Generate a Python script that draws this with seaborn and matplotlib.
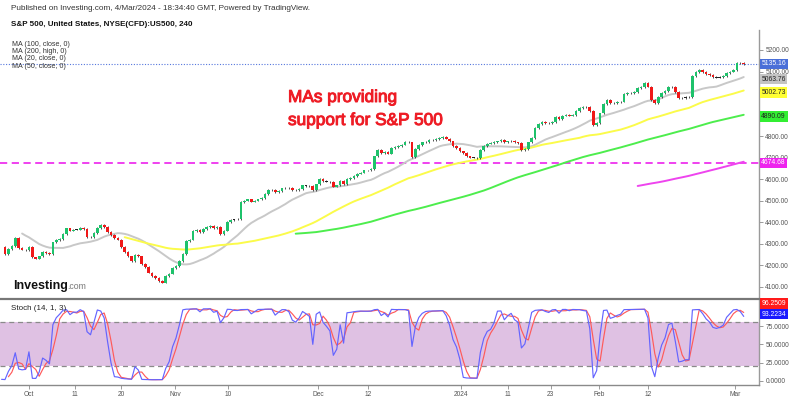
import numpy as np
import pandas as pd
import matplotlib
matplotlib.use("Agg")
import matplotlib.pyplot as plt
import matplotlib.patheffects as pe
import seaborn as sns

# ---------------- data ----------------
header_line1 = "Published on Investing.com, 4/Mar/2024 - 18:34:40 GMT, Powered by TradingView."
header_line2 = "S&P 500, United States, NYSE(CFD):US500, 240"
ma_legend = ["MA (100, close, 0)", "MA (200, high, 0)", "MA (20, close, 0)", "MA (50, close, 0)"]
note_lines = ["MAs providing", "support for S&P 500"]
stoch_title = "Stoch (14, 1, 3)"

# 4h closes of the 14 bars before the visible window (needed by the indicators)
pre_closes = [4455, 4450, 4445, 4444, 4440, 4402, 4370, 4330, 4325, 4320, 4330, 4337, 4300, 4285]
# 4h closes of the visible bars (late Sep 2023 -> 4 Mar 2024)
closes = [
    4252, 4275, 4290, 4325, 4280, 4272, 4268, 4285, 4235, 4230,
    4240, 4262, 4255, 4250, 4305, 4315, 4320, 4345, 4370, 4360,
    4365, 4365, 4372, 4368, 4330, 4328, 4350, 4372, 4385, 4378,
    4355, 4340, 4325, 4318, 4285, 4262, 4240, 4218, 4248, 4240,
    4205, 4190, 4165, 4150, 4140, 4125, 4118, 4150, 4160, 4185,
    4195, 4220, 4250, 4310, 4318, 4358, 4362, 4352, 4368, 4378,
    4383, 4372, 4376, 4345, 4360, 4400, 4410, 4412, 4415, 4492,
    4500, 4505, 4495, 4500, 4505, 4510, 4530, 4548, 4550, 4538,
    4545, 4556, 4557, 4558, 4550, 4548, 4552, 4570, 4568, 4566,
    4550, 4575, 4600, 4590, 4588, 4585, 4565, 4570, 4590, 4575,
    4600, 4605, 4615, 4625, 4630, 4640, 4640, 4645, 4705, 4735,
    4720, 4726, 4718, 4745, 4749, 4755, 4760, 4772, 4770, 4702,
    4740, 4758, 4770, 4772, 4781, 4782, 4785, 4790, 4795, 4788,
    4775, 4755, 4745, 4728, 4722, 4705, 4700, 4700, 4698, 4735,
    4755, 4765, 4768, 4772, 4775, 4781, 4770, 4775, 4778, 4770,
    4767, 4735, 4740, 4770, 4790, 4837, 4855, 4865, 4862, 4860,
    4865, 4888, 4880, 4895, 4898, 4895, 4898, 4915, 4930, 4935,
    4935, 4915, 4851, 4860, 4905, 4950, 4967, 4953, 4955, 4958,
    4960, 4995, 5000, 5000, 5005, 5023, 5028, 5047, 5030, 4967,
    4955, 4981, 5000, 5010, 5028, 5030, 5005, 4977, 4978, 4980,
    4980, 5080, 5098, 5107, 5098, 5090, 5084, 5074, 5072, 5074,
    5078, 5093, 5100, 5107, 5140, 5140, 5135,
]
wick = 4.0

ma_periods = [20, 50, 100, 200]
ma_sources = ["close", "close", "close", "high"]
ma_colors = ["#c8c8c8", "#fbfb4a", "#4ded4d", "#ee44ee"]

tick_bars = [7, 20.5, 33.9, 49.7, 65.2, 91.5, 106.1, 133.3, 147, 159.6, 173.6, 188, 213.5]
tick_labels = ["Oct", "11", "20", "Nov", "10", "Dec", "12", "2024", "11", "23", "Feb", "12", "Mar"]

price_ticks = [4100, 4200, 4300, 4400, 4500, 4600, 4700, 4800, 4900, 5000, 5100, 5200]
hidden_price_ticks = [4900, 5000]   # fully covered by the value boxes in the reference
stoch_ticks = [0, 25, 50, 75]

# last-value labels on the price scale: value, background, text colour
last_price = 5135.16
price_boxes = [(5135.16, "#4a6fd8", "white"), (5063.76, "#c4c4c4", "#222222"),
               (5002.73, "#ffff33", "#222222"), (4890.09, "#33ee33", "#222222"),
               (4674.68, "#ee22ee", "white")]
ma200_last = 4674.68
stoch_boxes = [(96.2509, "#ff1a1a", "white", 5), (93.2234, "#1a1aff", "white", -1)]

# ---------------- build table ----------------
allc = np.array(pre_closes + closes, dtype=float)
bars = np.arange(-len(pre_closes), len(closes))
df = pd.DataFrame({"bar": bars, "close": allc})
df["open"] = df["close"].shift(1).fillna(df["close"])
df["high"] = df[["open", "close"]].max(axis=1) + wick
df["low"] = df[["open", "close"]].min(axis=1) - wick
for p, src in zip(ma_periods, ma_sources):
    df[f"ma{p}"] = df[src].rolling(p).mean()
ll = df["low"].rolling(14).min()
hh = df["high"].rolling(14).max()
df["k"] = 100 * (df["close"] - ll) / (hh - ll)
df["d"] = df["k"].rolling(3).mean()

# ---------------- figure ----------------
sns.set_theme(style="white")
plt.rcParams["font.family"] = ["Liberation Sans", "DejaVu Sans"]

W, H = 800, 400
fig = plt.figure(figsize=(8, 4), dpi=100)
fig.patch.set_facecolor("white")
axw = 759 / W
ax = fig.add_axes([0, (H - 298) / H, axw, (298 - 30) / H])
ax2 = fig.add_axes([0, (H - 385) / H, axw, (385 - 299) / H])

px_per_bar = 3.42
x0 = -5 / px_per_bar
x1 = x0 + 759 / px_per_bar
for a in (ax, ax2):
    a.set_xlim(x0, x1)
    a.set_facecolor("white")

ax.set_ylim(5200 - 248 * 4.651, 5200 + 20 * 4.651)
ax2.set_ylim(-5.5, 111.9)

# horizontal price lines
ax.axhline(last_price, color="#5577dd", lw=0.8, ls=(0, (1, 1.5)), zorder=1)
ax.axhline(ma200_last, color="#ee33ee", lw=1.3, ls=(0, (4, 2.5)), zorder=1)

# moving averages
for p, col in zip(ma_periods, ma_colors):
    sub = df.dropna(subset=[f"ma{p}"])
    sns.lineplot(data=sub, x="bar", y=f"ma{p}", ax=ax, color=col, linewidth=1.4,
                 estimator=None, zorder=2)

# candles
vis = df[df["bar"] >= 0]
o, c = vis["open"].values, vis["close"].values
diff = c - o
body_col = np.where(np.abs(diff) < 3, "#222222", np.where(diff > 0, "#1ec26b", "#f01818"))
ax.vlines(vis["bar"], vis["low"], vis["high"], color="#333333", lw=0.6, zorder=3)
ax.bar(vis["bar"], np.maximum(np.abs(diff), 1.6), bottom=np.minimum(o, c), width=0.78,
       color=body_col, linewidth=0, zorder=4)

# stochastic
ax2.axhspan(20, 80, color="#dfc1e3", zorder=0, lw=0)
for lvl in (20, 80):
    ax2.axhline(lvl, color="#8a8a8a", lw=0.9, ls=(0, (4, 3)), zorder=1)
sns.lineplot(data=df, x="bar", y="k", ax=ax2, color="#6464ff", linewidth=0.85, estimator=None, zorder=3)
sns.lineplot(data=df, x="bar", y="d", ax=ax2, color="#ff5a5a", linewidth=0.85, estimator=None, zorder=2)

# axes styling
for a in (ax, ax2):
    a.set_xlabel("")
    a.set_ylabel("")
    a.yaxis.tick_right()
    for s in a.spines.values():
        s.set_visible(False)
    a.spines["right"].set_visible(True)
    a.spines["right"].set_color("#9a9a9a")
    a.spines["right"].set_linewidth(1.0)
    a.tick_params(axis="y", which="both", right=True, length=3, width=0.7, color="#9a9a9a",
                  labelsize=4.8, labelcolor="#555555", pad=1.5)

ax.set_yticks(price_ticks)
ax.set_yticklabels(["" if v in hidden_price_ticks else f"{v:.2f}" for v in price_ticks])
ax.set_xticks([])

ax2.set_yticks(stoch_ticks)
ax2.set_yticklabels([f"{v:.4f}" for v in stoch_ticks])
ax2.set_xticks(tick_bars)
ax2.set_xticklabels(tick_labels)
ax2.tick_params(axis="x", bottom=True, length=3, width=0.7, color="#9a9a9a",
                labelsize=4.8, labelcolor="#555555", pad=1.5)
ax2.spines["top"].set_visible(True)
ax2.spines["top"].set_color("#777777")
ax2.spines["top"].set_linewidth(1.6)
ax2.spines["bottom"].set_visible(True)
ax2.spines["bottom"].set_color("#8a8a8a")
ax2.spines["bottom"].set_linewidth(1.0)

# last value boxes
ytr = ax.get_yaxis_transform()
for val, bg, fg in price_boxes:
    ax.text(1.003, val, f"{val:.2f}", transform=ytr, ha="left", va="center", fontsize=4.9,
            color=fg, zorder=10, clip_on=False,
            bbox=dict(boxstyle="square,pad=0.25", fc=bg, ec="none"))
ytr2 = ax2.get_yaxis_transform()
for val, bg, fg, dy in stoch_boxes:
    ax2.annotate(f"{val:.4f}", xy=(1.003, val), xycoords=ytr2, xytext=(0, dy),
                 textcoords="offset points", ha="left", va="center", fontsize=4.9,
                 color=fg, zorder=10, annotation_clip=False,
                 bbox=dict(boxstyle="square,pad=0.25", fc=bg, ec="none"))

# header texts (figure pixel positions)
def fx(x):
    return x / W

def fy(y):
    return 1 - y / H

fig.text(fx(11), fy(8), header_line1, fontsize=5.9, color="#333333", va="center", ha="left")
fig.text(fx(11), fy(24), header_line2, fontsize=5.8, color="#111111", va="center", ha="left",
         fontweight="bold")
for i, t in enumerate(ma_legend):
    fig.text(fx(12), fy(44 + 7.4 * i), t, fontsize=5.1, color="#333333", va="center", ha="left")

for i, t in enumerate(note_lines):
    fig.text(fx(288), fy(102 + 23 * i), t, fontsize=12.4, color="#ee1c25", va="baseline",
             ha="left", path_effects=[pe.withStroke(linewidth=0.7, foreground="#ee1c25")])

fig.text(fx(13), fy(289), "Investing", fontsize=9, fontweight="bold", color="#111111",
         va="baseline", ha="left")
fig.text(fx(67), fy(289), ".com", fontsize=6.3, color="#777777", va="baseline", ha="left")
fig.text(fx(11), fy(308), stoch_title, fontsize=5.8, color="#222222", va="center", ha="left")

fig.savefig("out.png", dpi=100, facecolor="white")
